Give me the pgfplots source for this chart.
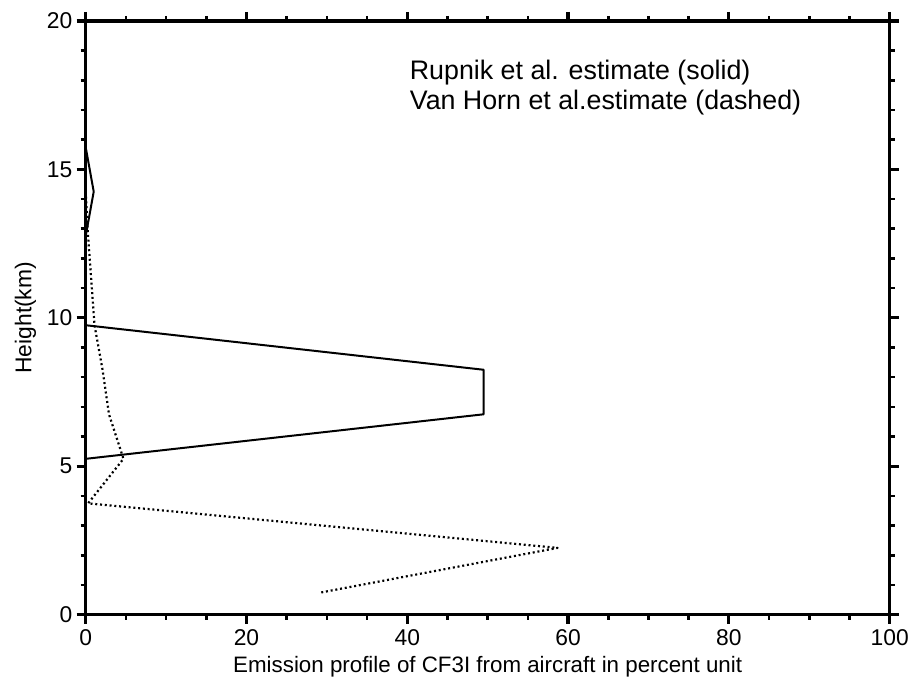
\documentclass[border=0pt]{standalone}
\usepackage{fontspec}
\setmainfont{Liberation Sans}
\usepackage{pgfplots}
\pgfplotsset{compat=1.18}
\begin{document}
\begin{tikzpicture}
\begin{axis}[
  scale only axis,
  width=807bp, height=596bp,
  xmin=0, xmax=100, ymin=0, ymax=20,
  xtick distance=20, ytick distance=5,
  minor x tick num=3, minor y tick num=4,
  tick align=outside,
  major tick length=9bp, minor tick length=5bp,
  tick style={line width=3bp, black},
  major tick style={line width=3.2bp, black},
  minor tick style={line width=2.6bp, black},
  axis line style={line width=3.4bp},
  /pgf/number format/assume math mode=true,
  xticklabel style={font=\fontsize{23}{25}\selectfont, yshift=-2bp},
  yticklabel style={font=\fontsize{23}{25}\selectfont, xshift=-1bp},
  xlabel={Emission profile of CF3I from aircraft in percent unit},
  ylabel={Height(km)},
  xlabel style={font=\fontsize{22.5}{24}\selectfont, yshift=-4bp},
  ylabel style={font=\fontsize{23}{25}\selectfont, yshift=4bp},
]
% Rupnik et al. (solid)
\addplot[black, line width=2bp, line join=round] coordinates {
  (0,0.75) (0,2.25) (0,3.75) (0,5.25) (49.5,6.75) (49.5,8.25)
  (0,9.75) (0,11.25) (0,12.75) (1,14.25) (0,15.75)
};
% Van Horn et al. (dashed, drawn dotted)
\addplot[black, line width=2.2bp, line join=round,
         dash pattern=on 2bp off 2.8bp] coordinates {
  (29.3,0.75) (58.7,2.25) (0.3,3.75) (4.7,5.25) (2.9,6.75) (2.1,8.25)
  (1.1,9.75) (0.7,11.25) (0.3,12.75) (0,14.25)
};
\node[anchor=north west, align=left, inner sep=0pt,
      font=\fontsize{27}{31}\selectfont]
  at (rel axis cs:0.403,0.935)
  {Rupnik et al. estimate (solid)\\Van Horn et al.estimate (dashed)};
\end{axis}
% page margins as in the reference
\path ([xshift=-86bp,yshift=-69bp]current axis.south west)
  rectangle ([xshift=19bp,yshift=21bp]current axis.north east);
\end{tikzpicture}
\end{document}
